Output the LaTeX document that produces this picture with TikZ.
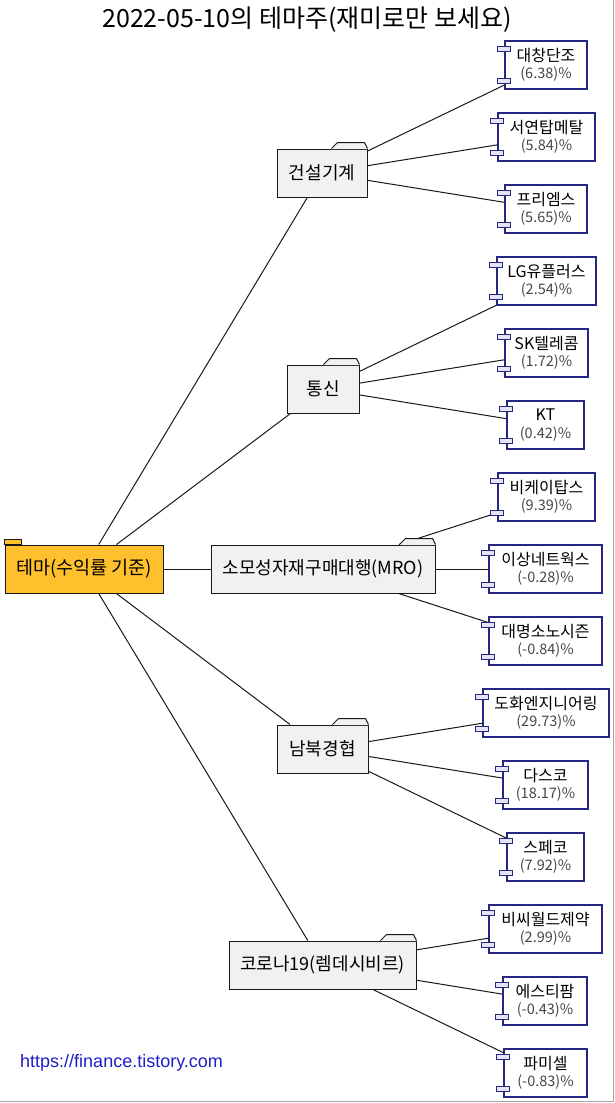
\documentclass[tikz,border=0pt]{standalone}
\usepackage{fontspec}
\setmainfont{Noto Sans CJK KR}
\newfontfamily\urlfont{Liberation Sans}
\usetikzlibrary{calc,shadows}
\definecolor{rootfill}{RGB}{254,193,45}
\definecolor{ffill}{RGB}{241,241,241}
\definecolor{fborder}{RGB}{24,24,24}
\definecolor{leafc}{RGB}{38,38,132}
\definecolor{compfill}{RGB}{228,228,244}
\definecolor{urlc}{RGB}{30,30,200}
\definecolor{framec}{RGB}{165,165,165}
\newcommand\pctf{\fontsize{14.5}{17.5}\selectfont\color{black!72}}
\newcommand\foldertab[1]{%
  \fill[ffill] ($(#1.north east)+(-36,0.5)$) -- ($(#1.north east)+(-30,-6)$) -- ($(#1.north east)+(-3,-6)$) -- ($(#1.north east)+(0,0.5)$) -- cycle;
  \draw[fborder, line width=1pt, line join=round] ($(#1.north east)+(-36,0)$) -- ($(#1.north east)+(-30,-6)$) -- ($(#1.north east)+(-3,-6)$) -- (#1.north east);}
\newcommand\comprects[1]{%
  \filldraw[comprect] ($(#1.north west)+(-7,6)$) rectangle ($(#1.north west)+(6,11)$);
  \filldraw[comprect] ($(#1.south west)+(-7,-11)$) rectangle ($(#1.south west)+(6,-6)$);}
\tikzset{
  sh/.style={drop shadow={shadow xshift=1.3pt, shadow yshift=-1.3pt, opacity=0.75, fill=black!55}},
  rootbox/.style={draw=fborder, fill=rootfill, line width=1pt, inner sep=0, minimum height=48, font=\fontsize{18.5}{22}\selectfont, sh},
  folder/.style={draw=fborder, fill=ffill, line width=1pt, inner sep=0, minimum height=48, font=\fontsize{18}{22}\selectfont, sh},
  leaf/.style={draw=leafc, fill=white, line width=1.1pt, inner sep=0, minimum height=48, align=center, font=\fontsize{16}{17.5}\selectfont, sh},
  comprect/.style={draw=leafc, fill=compfill, line width=0.9pt},
  conn/.style={draw=black!90, line width=1pt},
}
\begin{document}
\begin{tikzpicture}[x=1pt, y=-1pt]
\useasboundingbox (0,0) rectangle (615,1103);
\node[font=\fontsize{25}{29}\selectfont] (title) at (307,20) {2022-05-10의 테마주(재미로만 보세요)};
\node[font=\urlfont\fontsize{18}{21}\selectfont, text=urlc, anchor=west, inner sep=0] (url) at (20,1063) {https://finance.tistory.com};

% root
\node[rootbox, minimum width=158] (root) at (84,569) {테마(수익률 기준)};
% folders
\node[folder, minimum width=90] (g1) at (322,173) {건설기계};
\node[folder, minimum width=72] (g2) at (323,389) {통신};
\node[folder, minimum width=224] (g3) at (323,569) {소모성자재구매대행(MRO)};
\node[folder, minimum width=91] (g4) at (322.5,749) {남북경협};
\node[folder, minimum width=187] (g5) at (322.5,965) {코로나19(렘데시비르)};
% leaves
\node[leaf, minimum width=82] (l1) at (546,65) {대창단조\\{\pctf (6.38)\%}};
\node[leaf, minimum width=97] (l2) at (546.5,137) {서연탑메탈\\{\pctf (5.84)\%}};
\node[leaf, minimum width=82] (l3) at (546,209) {프리엠스\\{\pctf (5.65)\%}};
\node[leaf, minimum width=99] (l4) at (546.5,281) {LG유플러스\\{\pctf (2.54)\%}};
\node[leaf, minimum width=83] (l5) at (546.5,353) {SK텔레콤\\{\pctf (1.72)\%}};
\node[leaf, minimum width=77] (l6) at (545.5,425) {KT\\{\pctf (0.42)\%}};
\node[leaf, minimum width=97] (l7) at (546.5,497) {비케이탑스\\{\pctf (9.39)\%}};
\node[leaf, minimum width=113] (l8) at (545.5,569) {이상네트웍스\\{\pctf (-0.28)\%}};
\node[leaf, minimum width=113] (l9) at (545.5,641) {대명소노시즌\\{\pctf (-0.84)\%}};
\node[leaf, minimum width=126] (l10) at (546,713) {도화엔지니어링\\{\pctf (29.73)\%}};
\node[leaf, minimum width=85] (l11) at (545.5,785) {다스코\\{\pctf (18.17)\%}};
\node[leaf, minimum width=77] (l12) at (545.5,857) {스페코\\{\pctf (7.92)\%}};
\node[leaf, minimum width=113] (l13) at (545.5,929) {비씨월드제약\\{\pctf (2.99)\%}};
\node[leaf, minimum width=84] (l14) at (545,1001) {에스티팜\\{\pctf (-0.43)\%}};
\node[leaf, minimum width=83] (l15) at (545.5,1073) {파미셀\\{\pctf (-0.83)\%}};

% connectors
\foreach \g in {g1,g2,g3,g4,g5} {\draw[conn] (root) -- (\g);}
\foreach \l in {l1,l2,l3} {\draw[conn] (g1) -- (\l);}
\foreach \l in {l4,l5,l6} {\draw[conn] (g2) -- (\l);}
\foreach \l in {l7,l8,l9} {\draw[conn] (g3) -- (\l);}
\foreach \l in {l10,l11,l12} {\draw[conn] (g4) -- (\l);}
\foreach \l in {l13,l14,l15} {\draw[conn] (g5) -- (\l);}

% decorations
\filldraw[fill=rootfill, draw=fborder, line width=1pt] (root.north west) rectangle ($(root.north west)+(17,-5)$);
\foreach \g in {g1,g2,g3,g4,g5} {\foldertab{\g}}
\foreach \l in {l1,l2,l3,l4,l5,l6,l7,l8,l9,l10,l11,l12,l13,l14,l15} {\comprects{\l}}

% frame
\draw[framec, line width=1.5pt] (613.5,0) -- (613.5,1101.5) -- (0,1101.5);
\end{tikzpicture}
\end{document}
